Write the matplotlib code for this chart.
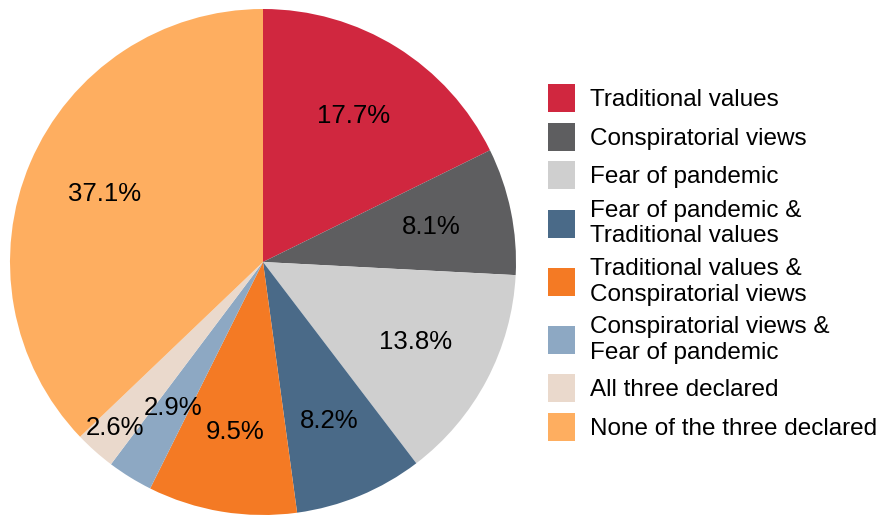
import matplotlib
matplotlib.use("Agg")
import matplotlib.pyplot as plt

plt.rcParams['font.family'] = ['Liberation Sans', 'DejaVu Sans']

# ── Data ──────────────────────────────────────────────
labels = [
    "Traditional values",
    "Conspiratorial views",
    "Fear of pandemic",
    "Fear of pandemic &\nTraditional values",
    "Traditional values &\nConspiratorial views",
    "Conspiratorial views &\nFear of pandemic",
    "All three declared",
    "None of the three declared",
]
shares = [17.7, 8.1, 13.8, 8.2, 9.5, 2.9, 2.6, 37.1]
colors = ["#D0273F", "#5E5E60", "#CFCFCF", "#4A6A88",
          "#F47A24", "#8DA8C3", "#EAD9CC", "#FEAE60"]

# ── Plot ──────────────────────────────────────────────
fig = plt.figure(figsize=(8.8, 5.16), dpi=100)
ax = fig.add_axes([10 / 880, 1 / 516, 506 / 880, 506 / 516])

wedges, texts, autotexts = ax.pie(
    shares,
    colors=colors,
    startangle=90,
    counterclock=False,
    autopct=lambda p: f"{p:.1f}%",
    pctdistance=0.68,
    wedgeprops=dict(linewidth=0),
    textprops=dict(fontsize=18.5, color="black"),
)

# small slice label pushed outward so it does not collide with its neighbour
x, y = autotexts[6].get_position()
autotexts[6].set_position((x * 0.88 / 0.68, y * 0.88 / 0.68))

# use the stated values as the label text
for t, v in zip(autotexts, shares):
    t.set_text(f"{v:.1f}%")

ax.set_xlim(-1, 1)
ax.set_ylim(-1, 1)
ax.set_aspect("equal")
ax.axis("off")

fig.legend(
    wedges, labels,
    loc="center left",
    bbox_to_anchor=(548 / 880, 1 - 262.5 / 516),
    frameon=False,
    fontsize=17.5,
    handlelength=1.11,
    handleheight=1.4,
    handletextpad=0.62,
    labelspacing=0.44,
    borderpad=0,
    borderaxespad=0,
)

fig.savefig("out.png", dpi=100)
